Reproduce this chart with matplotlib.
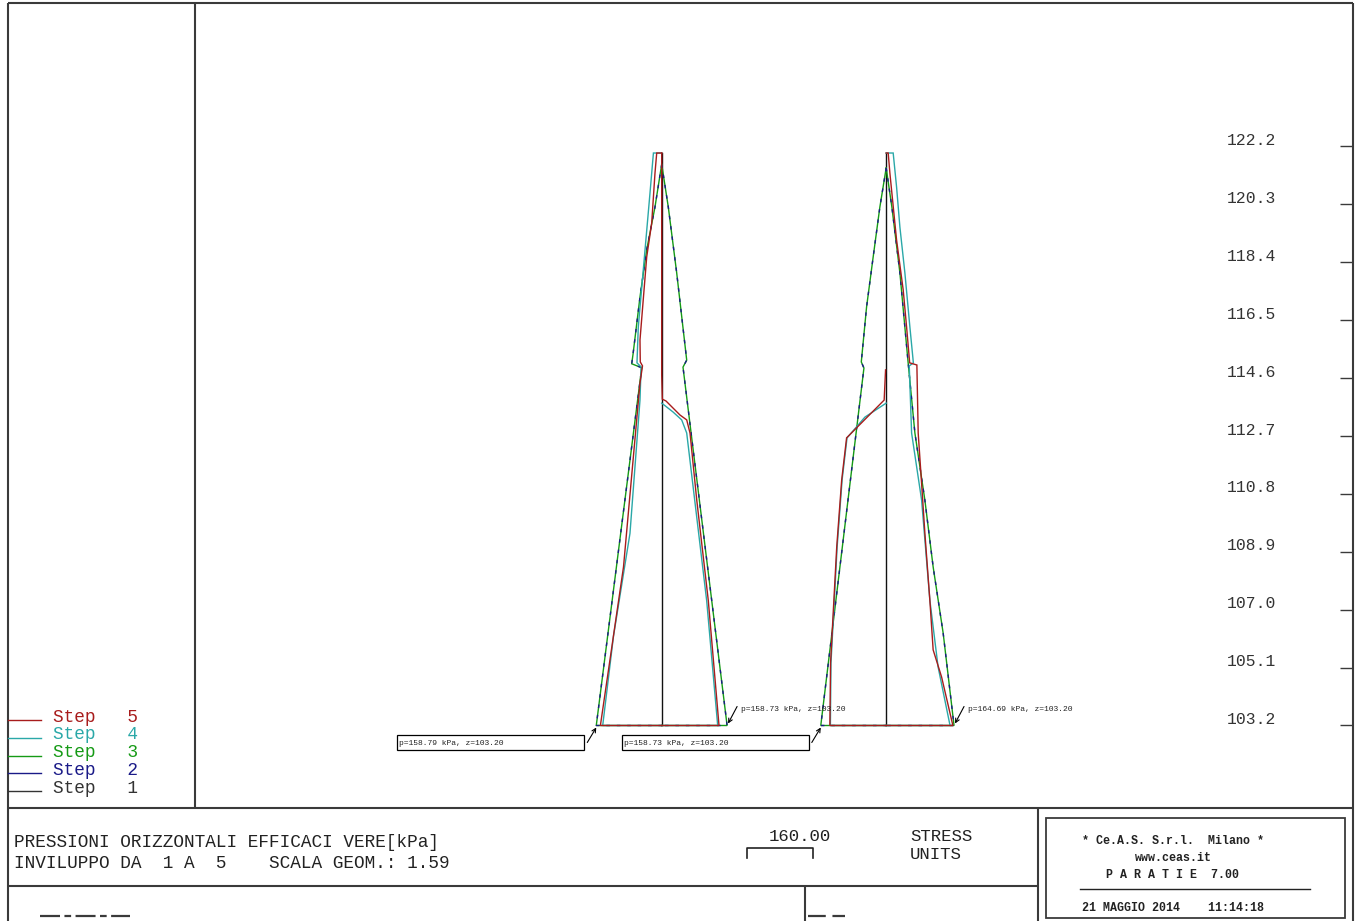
import matplotlib
matplotlib.use('Agg')
import matplotlib.pyplot as plt
from matplotlib.patches import Rectangle

# ---------------- data ----------------
Z_TOP = 121.97          # top of the walls (m)
Z_BASE = 103.20         # toe of the walls (m)
WALL_X = [0.0, 7.36]    # wall positions (m, drawing units)
TICKS = [122.2, 120.3, 118.4, 116.5, 114.6, 112.7, 110.8, 108.9, 107.0, 105.1, 103.2]
SCALE_KPA = 160.0
STEPS = [5, 4, 3, 2, 1]
STEP_COLORS = {5: '#a81c1c', 4: '#2aa8a8', 3: '#159a15', 2: '#1a1a88', 1: '#333333'}

# wall 1 - left side (outside)
w1l_z_23 = [121.6, 120.2, 118.8, 117.25, 115.36, 115.06, 114.93, 103.2]
w1l_p_23 = [0, 16.3, 36.4, 52.7, 69.7, 72.8, 48.5, 158.79]
w1l_z_4 = [121.97, 121.97, 120.66, 118.79, 116.27, 115.09, 114.96, 113.87, 109.5, 106.13, 103.2]
w1l_p_4 = [0, 20.1, 28.4, 40.5, 56.8, 60.0, 50.0, 52.7, 77.0, 117.0, 143.2]
w1l_z_5 = [121.97, 121.97, 121.31, 119.67, 118.56, 115.84, 115.12, 114.99, 114.43, 108.4, 103.2]
w1l_p_5 = [0, 12.1, 16.3, 24.3, 36.4, 52.7, 52.0, 46.6, 52.7, 92.7, 148.8]

# wall 1 - right side (excavation)
w1r_z_23 = [121.6, 120.2, 118.04, 115.18, 114.95, 103.2]
w1r_p_23 = [0, 16.0, 36.4, 60.7, 51.7, 158.73]
w1r_z_4 = [113.77, 113.48, 113.22, 112.79, 107.29, 103.2]
w1r_p_4 = [0, 27.4, 48.5, 60.7, 109.2, 135.9]
w1r_z_5 = [121.97, 114.69, 113.9, 113.84, 113.38, 113.22, 112.79, 110.6, 107.31, 103.2]
w1r_p_5 = [0, 0, 1.5, 10.4, 44.4, 60.7, 68.7, 85.0, 113.0, 139.1]

# wall 2 - left side (excavation)
w2l_z_23 = [121.48, 120.2, 118.56, 116.92, 115.12, 114.92, 103.2]
w2l_p_23 = [0, 15.3, 31.6, 47.6, 60.4, 54.0, 158.73]
w2l_z_4 = [113.77, 113.31, 112.63, 111.25, 109.06, 106.89, 105.25, 103.2]
w2l_p_4 = [0, 51.7, 95.0, 107.0, 119.0, 127.5, 134.0, 135.4]
w2l_z_5 = [114.86, 113.87, 112.63, 111.25, 109.06, 106.89, 105.25, 103.2]
w2l_p_5 = [1.5, 4.9, 96.1, 108.0, 120.0, 128.6, 135.0, 136.7]

# wall 2 - right side (outside)
w2r_z_23 = [121.48, 120.2, 118.04, 115.18, 112.79, 110.59, 108.4, 106.23, 103.2]
w2r_p_23 = [0, 13.8, 33.3, 52.7, 69.7, 93.9, 114.0, 138.3, 164.69]
w2r_z_4 = [121.97, 121.97, 120.86, 119.54, 118.04, 116.27, 115.09, 114.99, 112.79, 110.59, 107.31, 105.12, 103.2]
w2r_p_4 = [0, 17.0, 25.2, 33.3, 45.4, 57.5, 66.0, 56.0, 61.7, 86.0, 106.0, 126.0, 155.0]
w2r_z_5 = [121.97, 121.97, 121.31, 119.12, 117.48, 116.27, 115.09, 115.02, 112.79, 111.15, 109.51, 107.31, 105.68, 104.79, 103.2]
w2r_p_5 = [0, 4.9, 9.0, 25.2, 41.3, 49.5, 57.0, 74.5, 77.7, 85.9, 93.9, 106.0, 114.0, 134.5, 161.9]

# ---------------- drawing scales ----------------
PX_PER_M = 30.5
PX_PER_KPA = 0.412
KSTRESS = PX_PER_KPA / PX_PER_M      # m of drawing per kPa
W1_PX, BASE_PX = 661.7, 725.5        # pixel of wall 1 / toe level
MONO = 'Liberation Mono'
LW = 1.0
INK = '#3a3a3a'
TXT = '#222222'

fig = plt.figure(figsize=(13.6, 9.21), dpi=100)

# frame layer in pixel coordinates
fr = fig.add_axes([0, 0, 1, 1], zorder=0)
fr.set_xlim(0, 1360)
fr.set_ylim(921, 0)
fr.axis('off')

def hline(y, x0, x1, **kw):
    fr.plot([x0, x1], [y, y], color=INK, lw=1.5, solid_capstyle='butt', **kw)

def vline(x, y0, y1, **kw):
    fr.plot([x, x], [y0, y1], color=INK, lw=1.5, solid_capstyle='butt', **kw)

hline(3, 8, 1353)
hline(808, 8, 1353)
hline(886, 8, 1038)
vline(8, 3, 921)
vline(195, 3, 808)
vline(1353, 3, 921)
vline(1038, 808, 921)
vline(805, 886, 921)
fr.add_patch(Rectangle((1046, 818), 299, 100, fill=False, ec=INK, lw=1.3))
fr.plot([1080, 1310], [889, 889], color=TXT, lw=1.0)
fr.plot([40, 130], [916, 916], color=INK, lw=1.6, dashes=(9, 2, 3, 2))
fr.plot([808, 845], [916, 916], color=INK, lw=1.6, dashes=(8, 3))

# title block
fr.text(14, 842, 'PRESSIONI ORIZZONTALI EFFICACI VERE[kPa]', family=MONO, fontsize=12.8,
        va='center', color=TXT)
fr.text(14, 863, 'INVILUPPO DA  1 A  5    SCALA GEOM.: 1.59', family=MONO, fontsize=12.8,
        va='center', color=TXT)
fr.text(800, 836, f'{SCALE_KPA:.2f}', family=MONO, fontsize=12.5, ha='center', va='center',
        color=TXT)
bar = SCALE_KPA * PX_PER_KPA
fr.plot([747, 747, 747 + bar, 747 + bar], [858, 848, 848, 858], color=TXT, lw=1.2)
fr.text(910, 836, 'STRESS', family=MONO, fontsize=12.5, va='center', color=TXT)
fr.text(910, 854, 'UNITS', family=MONO, fontsize=12.5, va='center', color=TXT)

for txt, y in [('* Ce.A.S. S.r.l.  Milano *', 841), ('www.ceas.it', 858),
               ('P A R A T I E  7.00', 875), ('21 MAGGIO 2014    11:14:18', 908)]:
    fr.text(1173, y, txt, family=MONO, fontsize=8.4, weight='bold', ha='center',
            va='center', color=TXT)

# legend
for i, s in enumerate(STEPS):
    y = 720 + i * 17.75
    fr.plot([8, 41], [y, y], color=STEP_COLORS[s], lw=1.0)
    fr.text(53, y - 3, f'Step   {s}', family=MONO, fontsize=12.8, va='center',
            color=STEP_COLORS[s])

# main drawing axes, same metres-per-pixel on both directions
ax = fig.add_axes([195 / 1360, (921 - 808) / 921, 1158 / 1360, 805 / 921], zorder=1)
ax.patch.set_alpha(0)
ax.set_xlim((195 - W1_PX) / PX_PER_M, (1353 - W1_PX) / PX_PER_M)
ax.set_ylim(Z_BASE - (808 - BASE_PX) / PX_PER_M, Z_BASE + (BASE_PX - 3) / PX_PER_M)
for sp in ax.spines.values():
    sp.set_visible(False)
ax.set_xticks([])
ax.yaxis.tick_right()
ax.set_yticks(TICKS, labels=[])
ax.tick_params(axis='y', direction='in', length=9.5, width=1.0, color=INK, right=True)
for t in TICKS:
    ax.text((1276 - 195) / 1158, t + 0.04, f'{t:.1f}', transform=ax.get_yaxis_transform(),
            ha='right', va='baseline', family=MONO, fontsize=11.8, color='#333333')

# walls
for xw in WALL_X:
    ax.plot([xw, xw], [Z_TOP, Z_BASE], color='#111111', lw=LW)


def draw_profile(xw, side, z, p, color, **kw):
    xs = [xw + side * KSTRESS * v for v in p] + [xw]
    zs = list(z) + [z[-1]]
    ax.plot(xs, zs, color=color, lw=LW, solid_joinstyle='miter', **kw)


profiles = [
    (WALL_X[0], -1, w1l_z_23, w1l_p_23, w1l_z_4, w1l_p_4, w1l_z_5, w1l_p_5),
    (WALL_X[0], 1, w1r_z_23, w1r_p_23, w1r_z_4, w1r_p_4, w1r_z_5, w1r_p_5),
    (WALL_X[1], -1, w2l_z_23, w2l_p_23, w2l_z_4, w2l_p_4, w2l_z_5, w2l_p_5),
    (WALL_X[1], 1, w2r_z_23, w2r_p_23, w2r_z_4, w2r_p_4, w2r_z_5, w2r_p_5),
]
for xw, side, z23, p23, z4, p4, z5, p5 in profiles:
    draw_profile(xw, side, z23, p23, STEP_COLORS[3])
    draw_profile(xw, side, z23, p23, STEP_COLORS[2], dashes=(2.5, 5))
for xw, side, z23, p23, z4, p4, z5, p5 in profiles:
    draw_profile(xw, side, z4, p4, STEP_COLORS[4])
for xw, side, z23, p23, z4, p4, z5, p5 in profiles:
    draw_profile(xw, side, z5, p5, STEP_COLORS[5])

# labels at the toe
m = 1 / PX_PER_M
for (xw, side, z23, p23, *_), boxed in zip(profiles, [True, False, True, False]):
    pb = p23[-1]
    tx = xw + side * KSTRESS * pb
    label = f'p={pb:.2f} kPa, z={Z_BASE:.2f}'
    arrow = dict(arrowstyle='->', lw=0.8, color='black', shrinkA=0, shrinkB=0,
                 mutation_scale=7)
    if boxed:
        ax.add_patch(Rectangle((tx - 199 * m, Z_BASE - 25 * m), 187 * m, 15 * m,
                               fill=False, ec='black', lw=0.9, clip_on=False))
        ax.text(tx - 197 * m, Z_BASE - 18 * m, label, family=MONO, fontsize=5.8,
                va='center', color=TXT)
        ax.annotate('', xy=(tx, Z_BASE - 2 * m), xytext=(tx - 9 * m, Z_BASE - 17 * m),
                    arrowprops=arrow)
    else:
        ax.text(tx + 14 * m, Z_BASE + 16 * m, label, family=MONO, fontsize=5.8,
                va='center', color=TXT)
        ax.annotate('', xy=(tx + 1 * m, Z_BASE + 2 * m), xytext=(tx + 10 * m, Z_BASE + 19 * m),
                    arrowprops=arrow)

fig.savefig('out.png', dpi=100)
